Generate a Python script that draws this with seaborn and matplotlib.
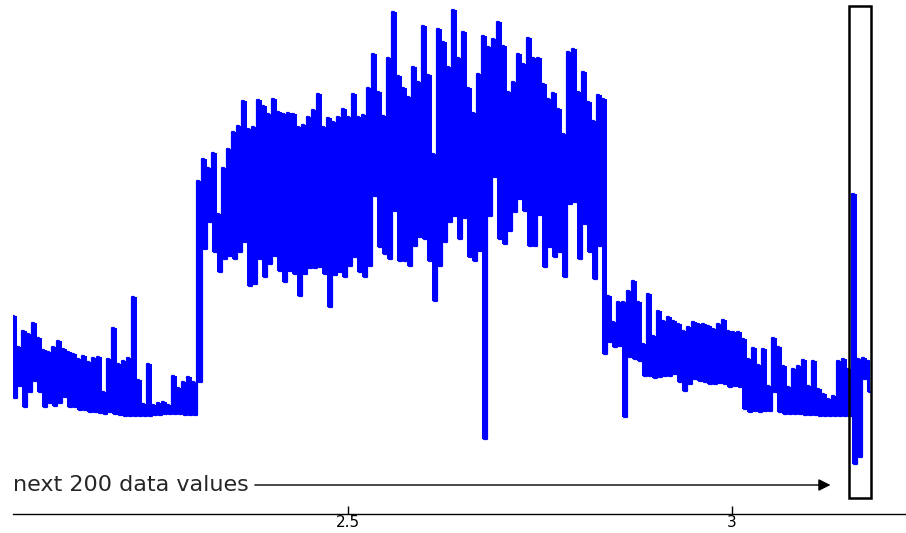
import numpy as np
import pandas as pd
import matplotlib
matplotlib.use('Agg')
import matplotlib.pyplot as plt
import seaborn as sns
from matplotlib.patches import Rectangle

# Envolvente de la serie: picos (hi) y valles (lo), alternados
hi = [198, 167, 183, 180, 191, 176, 164, 162, 167, 173, 165, 162, 160, 155, 158, 152, 156, 157, 122, 155,
      186, 150, 153, 156, 217, 134, 110, 150, 109, 111, 112, 109, 138, 126, 132, 137, 132, 333, 355, 346,
      361, 300, 346, 365, 382, 388, 413, 385, 387, 414, 408, 400, 415, 402, 400, 401, 400, 387, 389, 397,
      404, 420, 387, 396, 392, 397, 405, 397, 420, 397, 399, 426, 460, 422, 398, 456, 502, 438, 426, 417,
      447, 432, 488, 439, 360, 485, 472, 447, 504, 456, 482, 426, 401, 440, 478, 467, 475, 492, 468, 422,
      432, 460, 450, 476, 456, 456, 430, 415, 421, 405, 380, 462, 465, 422, 442, 412, 393, 419, 415, 218,
      192, 212, 212, 223, 233, 212, 170, 220, 178, 203, 193, 197, 193, 190, 183, 187, 192, 190, 190, 188,
      185, 190, 194, 183, 182, 182, 175, 155, 166, 149, 165, 128, 176, 167, 148, 127, 145, 148, 154, 128,
      153, 125, 120, 115, 118, 153, 155, 145, 320, 155, 156, 153]
lo = [116, 128, 107, 122, 133, 122, 107, 111, 108, 111, 117, 107, 107, 104, 104, 102, 102, 101, 100, 102,
      100, 99, 98, 98, 98, 98, 98, 98, 99, 99, 100, 100, 100, 100, 99, 99, 99, 132, 265, 292,
      262, 242, 255, 258, 255, 262, 272, 228, 230, 255, 237, 250, 258, 243, 232, 243, 240, 218, 240, 246,
      246, 247, 240, 207, 239, 242, 237, 248, 257, 242, 237, 248, 318, 267, 260, 255, 303, 253, 253, 248,
      268, 277, 275, 253, 213, 248, 272, 292, 298, 275, 296, 257, 253, 263, 75, 298, 337, 275, 270, 283,
      302, 315, 303, 268, 268, 299, 247, 267, 257, 262, 237, 310, 312, 255, 290, 262, 235, 268, 160, 172,
      167, 168, 97, 157, 155, 153, 138, 138, 136, 137, 138, 138, 140, 132, 123, 130, 135, 133, 132, 130,
      130, 131, 130, 127, 128, 127, 105, 102, 103, 102, 103, 103, 122, 102, 100, 100, 100, 100, 99, 99,
      99, 98, 98, 98, 98, 98, 98, 98, 50, 57, 135, 122]

t0 = 2.064      # primer instante
dt = 0.003255   # paso entre muestras
ticks = [2.5, 3]
tick_labels = ['2.5', '3']
etiqueta = 'next 200 data values'
n_caja = 9      # ultimas muestras dentro del recuadro

valores = np.ravel(np.column_stack([hi, lo]))
df = pd.DataFrame({'t': t0 + dt * np.arange(len(valores)), 'valor': valores})

sns.set_style('white')
plt.rcParams['font.family'] = ['DejaVu Sans']

fig = plt.figure(figsize=(9.06, 5.33), dpi=100)
ax = fig.add_axes([13 / 906, 19 / 533, 893 / 906, 514 / 533])

# relleno de la envolvente (la serie original es muy densa)
t_par = df['t'].values[0::2] + dt / 2
ax.fill_between(t_par, lo, hi, step='mid', color='#0000ff', lw=0)
sns.lineplot(data=df, x='t', y='valor', ax=ax, color='#0000ff', lw=1.6,
             estimator=None, sort=False, drawstyle='steps-mid')

ax.set_xlim(t0, 3.2266)
ax.set_ylim(0, 514)

# recuadro sobre los ultimos valores
x0 = df['t'].iloc[-n_caja] - 0.0025
x1 = df['t'].iloc[-1] + 0.0005
ax.add_patch(Rectangle((x0, 16), x1 - x0, 492, fill=False, ec='black', lw=1.8, zorder=5))

ax.annotate(etiqueta, xy=(x0 - 0.02, 29), xytext=(t0, 29),
            ha='left', va='center', fontsize=16,
            arrowprops=dict(arrowstyle='-|>', color='black', lw=1, mutation_scale=18))

ax.set_xticks(ticks)
ax.set_xticklabels(tick_labels, fontsize=11)
ax.tick_params(axis='x', bottom=True, direction='in', length=6, width=1, pad=1, colors='black')
ax.set_yticks([])
ax.set_xlabel('')
ax.set_ylabel('')
for lado in ['top', 'left', 'right']:
    ax.spines[lado].set_visible(False)
ax.spines['bottom'].set_color('black')
ax.spines['bottom'].set_linewidth(1)

fig.savefig('out.png', dpi=100)
